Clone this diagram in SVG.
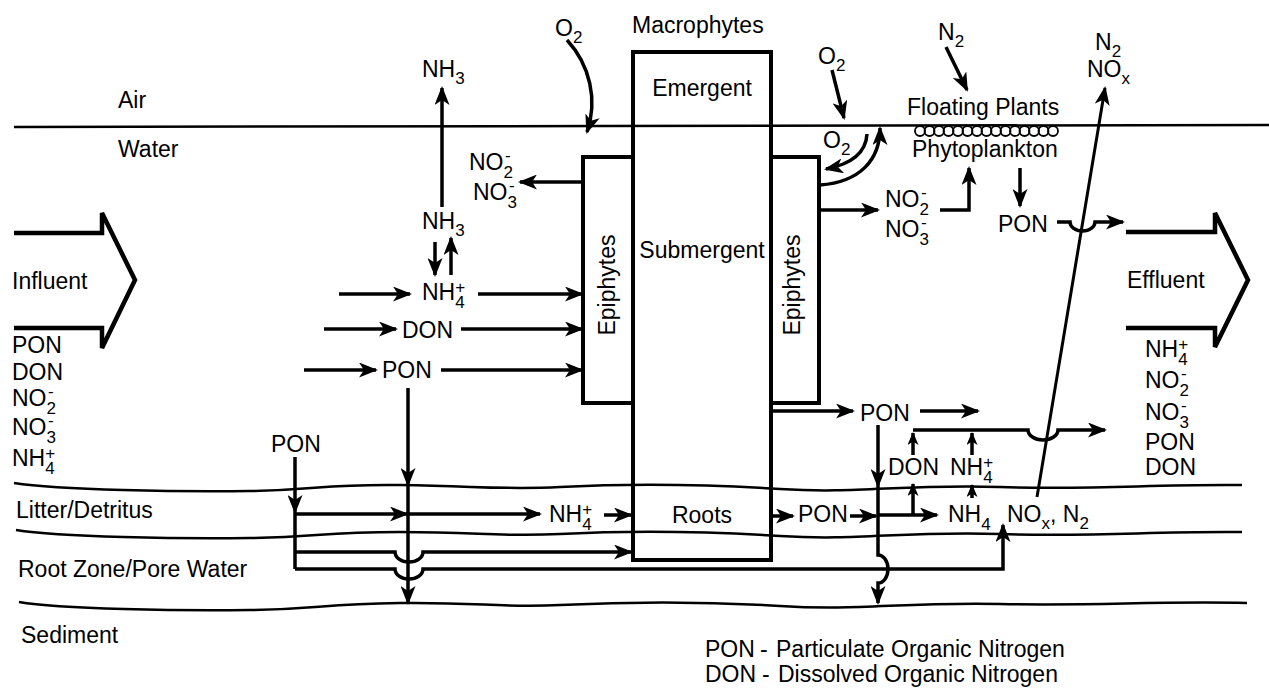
<svg xmlns="http://www.w3.org/2000/svg" width="1269" height="688" viewBox="0 0 1269 688">
<style>
text{font-family:"Liberation Sans",Arial,Helvetica,sans-serif;font-size:23px;fill:#000}
.s{font-size:17px}
.mid{text-anchor:middle}
.ln{fill:none;stroke:#000;stroke-width:3.5}
.ar{fill:none;stroke:#000;stroke-width:3.5;marker-end:url(#a)}
.sa{fill:none;stroke:#000;stroke-width:3.5;marker-end:url(#b)}
.wave{fill:none;stroke:#000;stroke-width:2.5}
.box{fill:none;stroke:#000;stroke-width:4}
.big{fill:none;stroke:#000;stroke-width:4.5;stroke-linejoin:miter}
</style>
<defs>
<marker id="a" viewBox="0 0 19 15" markerWidth="19" markerHeight="15" refX="17" refY="7.5" orient="auto" markerUnits="userSpaceOnUse"><path d="M0,0 L19,7.5 L0,15 L5,7.5 Z" fill="#000"/></marker>
<marker id="b" viewBox="0 0 13 11" markerWidth="13" markerHeight="11" refX="12" refY="5.5" orient="auto" markerUnits="userSpaceOnUse"><path d="M0,0 L13,5.5 L0,11 L3.5,5.5 Z" fill="#000"/></marker>
</defs>
<rect width="1269" height="688" fill="#fff"/>

<g id="layers">
<path class="wave" d="M14,127 C200,125 400,128 600,126 S1000,127 1269,125"/>
<path class="wave" d="M14,483 C60,490 180,492 250,491 S320,484 400,485 S500,490 560,487 S700,484 780,489 S900,484 1000,487 S1150,484 1242,485"/>
<path class="wave" d="M16,530 C60,537 180,539 250,538 S320,532 400,532 S500,537 560,534 S700,531 780,536 S900,531 1000,534 S1150,531 1242,532"/>
<path class="wave" d="M19,602 C60,609 180,611 250,610 S320,604 400,603 S500,608 560,605 S700,601 780,606 S900,602 1000,604 S1150,601 1247,603"/>
<text x="118" y="108">Air</text>
<text x="118" y="157">Water</text>
<text x="16" y="518">Litter/Detritus</text>
<text x="18" y="577">Root Zone/Pore Water</text>
<text x="21" y="643">Sediment</text>
</g>

<g id="macrophytes">
<text x="632" y="33">Macrophytes</text>
<rect class="box" x="633" y="52" width="138" height="508"/>
<text class="mid" x="702" y="96">Emergent</text>
<text class="mid" x="702" y="258">Submergent</text>
<text class="mid" x="702" y="523">Roots</text>
</g>
<g id="epiphytes-left">
<rect class="box" x="583" y="157" width="50" height="246"/>
<text class="mid" x="615" y="285" transform="rotate(-90 615 285)">Epiphytes</text>
</g>
<g id="epiphytes-right">
<rect class="box" x="771" y="157" width="48" height="246"/>
<text class="mid" x="800" y="285" transform="rotate(-90 800 285)">Epiphytes</text>
</g>

<g id="influent">
<path class="big" d="M14,233 H102 V213 L135,280 L102,348 V328 H14"/>
<text x="12" y="289">Influent</text>
<text x="12" y="353">PON</text>
<text x="12" y="380">DON</text>
<text x="12" y="406">NO<tspan class="s" dy="8">2</tspan><tspan class="s" dx="-8" dy="-17">-</tspan></text>
<text x="12" y="435">NO<tspan class="s" dy="8">3</tspan><tspan class="s" dx="-8" dy="-17">-</tspan></text>
<text x="12" y="466">NH<tspan class="s" dy="8">4</tspan><tspan class="s" dx="-9.5" dy="-15">+</tspan></text>
</g>
<g id="effluent">
<path class="big" d="M1126,232 H1215 V213 L1248,280 L1215,347 V328 H1126"/>
<text x="1127" y="288">Effluent</text>
<text x="1145" y="357">NH<tspan class="s" dy="8">4</tspan><tspan class="s" dx="-9.5" dy="-15">+</tspan></text>
<text x="1145" y="388">NO<tspan class="s" dy="8">2</tspan><tspan class="s" dx="-8" dy="-17">-</tspan></text>
<text x="1145" y="420">NO<tspan class="s" dy="8">3</tspan><tspan class="s" dx="-8" dy="-17">-</tspan></text>
<text x="1145" y="450">PON</text>
<text x="1145" y="475">DON</text>
</g>

<g id="o2-left"><text x="555" y="36">O<tspan class="s" dy="7">2</tspan></text></g>
<g id="nh3-air"><text x="422" y="77">NH<tspan class="s" dy="7">3</tspan></text></g>
<g id="nox-left">
<text x="469" y="170">NO<tspan class="s" dy="8">2</tspan><tspan class="s" dx="-8" dy="-17">-</tspan></text>
<text x="473" y="200">NO<tspan class="s" dy="8">3</tspan><tspan class="s" dx="-8" dy="-17">-</tspan></text>
</g>
<g id="nh3-water"><text x="422" y="229">NH<tspan class="s" dy="7">3</tspan></text></g>
<g id="nh4-water"><text x="422" y="300">NH<tspan class="s" dy="8">4</tspan><tspan class="s" dx="-9.5" dy="-15">+</tspan></text></g>
<g id="don-water"><text x="402" y="338">DON</text></g>
<g id="pon-water"><text x="382" y="378">PON</text></g>
<g id="pon-litter-in"><text x="271" y="452">PON</text></g>
<g id="nh4-litter"><text x="549" y="522">NH<tspan class="s" dy="8">4</tspan><tspan class="s" dx="-9.5" dy="-15">+</tspan></text></g>

<g id="o2-right"><text x="818" y="64">O<tspan class="s" dy="7">2</tspan></text></g>
<g id="o2-water"><text x="823" y="148">O<tspan class="s" dy="7">2</tspan></text></g>
<g id="n2-air"><text x="938" y="40">N<tspan class="s" dy="7">2</tspan></text></g>
<g id="n2-nox-air">
<text x="1095" y="50">N<tspan class="s" dy="7">2</tspan></text>
<text x="1087" y="77">NO<tspan class="s" dy="7">x</tspan></text>
</g>
<g id="floating-plants">
<text x="907" y="115">Floating Plants</text>
<g fill="none" stroke="#000" stroke-width="1.8">
<circle cx="920" cy="131" r="5"/><circle cx="929.5" cy="131" r="5"/><circle cx="939" cy="131" r="5"/><circle cx="948.5" cy="131" r="5"/><circle cx="958" cy="131" r="5"/><circle cx="967.5" cy="131" r="5"/><circle cx="977" cy="131" r="5"/><circle cx="986.5" cy="131" r="5"/><circle cx="996" cy="131" r="5"/><circle cx="1005.5" cy="131" r="5"/><circle cx="1015" cy="131" r="5"/><circle cx="1024.5" cy="131" r="5"/><circle cx="1034" cy="131" r="5"/><circle cx="1043.5" cy="131" r="5"/><circle cx="1053" cy="131" r="5"/>
</g>
<text x="912" y="157">Phytoplankton</text>
</g>
<g id="nox-right">
<text x="885" y="207">NO<tspan class="s" dy="8">2</tspan><tspan class="s" dx="-8" dy="-17">-</tspan></text>
<text x="885" y="237">NO<tspan class="s" dy="8">3</tspan><tspan class="s" dx="-8" dy="-17">-</tspan></text>
</g>
<g id="pon-phyto"><text x="998" y="232">PON</text></g>
<g id="pon-epi"><text x="860" y="421">PON</text></g>
<g id="don-right"><text x="888" y="475">DON</text></g>
<g id="nh4-right"><text x="950" y="475">NH<tspan class="s" dy="8">4</tspan><tspan class="s" dx="-9.5" dy="-15">+</tspan></text></g>
<g id="pon-roots"><text x="798" y="522">PON</text></g>
<g id="nh4-sed"><text x="948" y="522">NH<tspan class="s" dy="8">4</tspan></text></g>
<g id="nox-n2"><text x="1007" y="522">NO<tspan class="s" dy="7">x</tspan><tspan dy="-7">, N</tspan><tspan class="s" dy="7">2</tspan></text></g>

<g id="legend">
<text x="705" y="657">PON<tspan x="760">-</tspan><tspan x="776">Particulate Organic Nitrogen</tspan></text>
<text x="705" y="682">DON<tspan x="762">-</tspan><tspan x="778">Dissolved Organic Nitrogen</tspan></text>
</g>

<g id="connectors">
<path class="ar" d="M567,40 C590,65 598,100 587,132"/>
<path class="ar" d="M442,207 V88"/>
<path class="ar" d="M583,182 H520"/>
<path class="ar" d="M435,242 V275"/>
<path class="ar" d="M451,275 V238"/>
<path class="ar" d="M339,294 H410"/>
<path class="ar" d="M478,294 H582"/>
<path class="ar" d="M324,329 H396"/>
<path class="ar" d="M461,329 H582"/>
<path class="ar" d="M304,370 H376"/>
<path class="ar" d="M441,370 H582"/>
<path class="ar" d="M408,388 V485"/>
<path class="ar" d="M408,485 V603"/>
<path class="ar" d="M295,457 V512"/>
<path class="ln" d="M295,512 V569"/>
<path class="ar" d="M295,514 H407"/>
<path class="ar" d="M409,514 H540"/>
<path class="ar" d="M604,515 H631"/>
<path class="ar" d="M295,552 H395 A14,10 0 0 0 423,552 H631"/>
<path class="ar" d="M295,569 H395 A14,10 0 0 0 423,569 H1003 V525"/>
<path class="ar" d="M832,70 L844,118"/>
<path class="ar" d="M867,134 C866,152 852,164 826,169"/>
<path class="ar" d="M820,185 C860,182 880,160 880,128"/>
<path class="ar" d="M946,47 L967,90"/>
<path class="ar" d="M820,210 H878"/>
<path class="ar" d="M940,210 H969 V168"/>
<path class="ar" d="M1020,168 V206"/>
<path class="ar" d="M1057,222 H1070 A12.5,9 0 0 0 1095,222 H1123"/>
<path class="ar" d="M1037,497 L1105,88" style="stroke-width:3"/>
<path class="ar" d="M771,411 H853"/>
<path class="ar" d="M920,411 H978"/>
<path class="ar" d="M878,425 V486"/>
<path class="ar" d="M878,486 V555 A10,14 0 0 1 878,583 V603"/>
<path class="ar" d="M771,516 H793"/>
<path class="ar" d="M850,516 H876"/>
<path class="ar" d="M878,515 H937"/>
<path class="sa" d="M913,515 V484"/>
<path class="sa" d="M913,455 V433"/>
<path class="ar" d="M913,430 H1028 A15,10 0 0 0 1058,430 H1105"/>
<path class="sa" d="M972,498 V485"/>
<path class="sa" d="M972,455 V433"/>
</g>
</svg>
